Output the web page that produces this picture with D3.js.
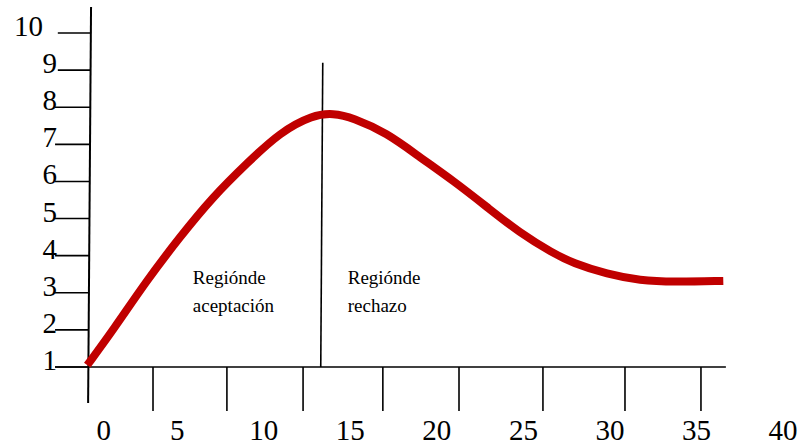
<!DOCTYPE html>
<html>
<head>
<meta charset="utf-8">
<script src="https://cdn.jsdelivr.net/npm/d3@7"></script>
<style>
  html, body { margin: 0; padding: 0; background: #fff; }
  svg { display: block; }
  text { font-family: "Liberation Serif", "Times New Roman", serif; fill: #000; }
</style>
</head>
<body>
<svg id="chart" width="804" height="447"></svg>
<script>
// ---- data ----
const xTickLabels = [0, 5, 10, 15, 20, 25, 30, 35, 40];
const yTickLabels = [1, 2, 3, 4, 5, 6, 7, 8, 9, 10];
const xTickMarks = [3.6, 7.87, 12.27, 16.88, 21.28, 26.13, 30.87, 35.26];
const curveX = [-0.2, 1.3, 3.25, 5.15, 7.05, 9.05, 10.95, 12.85, 14.0, 15.15, 17.1, 19.0, 20.95, 22.9, 24.8, 26.7, 27.85, 29.85, 31.75, 33.65, 36.55];
const curveY = [1.05, 2.0, 3.34, 4.5, 5.58, 6.5, 7.33, 7.79, 7.84, 7.72, 7.31, 6.66, 6.02, 5.31, 4.61, 4.07, 3.8, 3.5, 3.33, 3.29, 3.32];
const dividerX = 13.35;
const dividerTop = 9.2;
const regionLabels = [
  { x: 5.9, y: 3.24, lines: ["Regiónde", "aceptación"] },
  { x: 14.85, y: 3.24, lines: ["Regiónde", "rechazo"] }
];
const xAxisExtent = [-2.06, 36.7];
const yAxisTop = { x: 0.02, y: 10.7 };
const yAxisBottom = { x: -0.15, y: 0.03 };

// ---- scales ----
const x = d3.scaleLinear().domain([0, 40]).range([90.7, 783]);
const y = d3.scaleLinear().domain([1, 10]).range([367, 33]);

const svg = d3.select("#chart");
const axisXAt = v => {
  const t = (v - yAxisBottom.y) / (yAxisTop.y - yAxisBottom.y);
  return x(yAxisBottom.x + t * (yAxisTop.x - yAxisBottom.x));
};

// y axis line (slightly slanted, hand-drawn look)
svg.append("line")
  .attr("x1", x(yAxisTop.x)).attr("y1", y(yAxisTop.y))
  .attr("x2", x(yAxisBottom.x)).attr("y2", y(yAxisBottom.y))
  .attr("stroke", "#000").attr("stroke-width", 2);

// y tick lines (left of axis)
svg.selectAll(".ytick").data(yTickLabels).enter().append("line")
  .attr("class", "ytick")
  .attr("x1", d => d >= 9 ? x(-1.9) : x(-2.06))
  .attr("x2", d => axisXAt(d))
  .attr("y1", d => y(d)).attr("y2", d => y(d))
  .attr("stroke", "#000").attr("stroke-width", 1.6);

// y tick labels
svg.selectAll(".ylab").data(yTickLabels).enter().append("text")
  .attr("class", "ylab")
  .attr("x", d => d === 10 ? 43 : 57)
  .attr("y", d => y(d) + 3)
  .attr("text-anchor", "end")
  .attr("font-size", 29)
  .text(d => d);

// x axis line
svg.append("line")
  .attr("x1", x(xAxisExtent[0])).attr("x2", x(xAxisExtent[1]))
  .attr("y1", y(1)).attr("y2", y(1))
  .attr("stroke", "#000").attr("stroke-width", 1.6);

// x tick marks hanging below
svg.selectAll(".xtick").data(xTickMarks).enter().append("line")
  .attr("class", "xtick")
  .attr("x1", d => x(d)).attr("x2", d => x(d))
  .attr("y1", y(1)).attr("y2", y(1) + 44)
  .attr("stroke", "#000").attr("stroke-width", 1.6);

// x tick labels
svg.selectAll(".xlab").data(xTickLabels).enter().append("text")
  .attr("class", "xlab")
  .attr("x", d => x(d) + (d === 0 ? 13 : 0))
  .attr("y", 440)
  .attr("text-anchor", "middle")
  .attr("font-size", 29)
  .text(d => d);

// divider line
svg.append("line")
  .attr("x1", x(dividerX) + 1).attr("y1", y(dividerTop))
  .attr("x2", x(dividerX) - 1).attr("y2", y(1))
  .attr("stroke", "#000").attr("stroke-width", 1.6);

// region labels
regionLabels.forEach(r => {
  const t = svg.append("text")
    .attr("x", x(r.x)).attr("y", y(r.y))
    .attr("font-size", 19);
  r.lines.forEach((ln, i) => {
    t.append("tspan").attr("x", x(r.x)).attr("dy", i === 0 ? 0 : 28).text(ln);
  });
});

// curve
const pts = curveX.map((d, i) => [d, curveY[i]]);
const line = d3.line().x(d => x(d[0])).y(d => y(d[1])).curve(d3.curveBasis);
svg.append("path")
  .datum(pts)
  .attr("d", line)
  .attr("fill", "none")
  .attr("stroke", "#c00000")
  .attr("stroke-width", 8)
  .attr("stroke-linecap", "butt");
</script>
</body>
</html>
